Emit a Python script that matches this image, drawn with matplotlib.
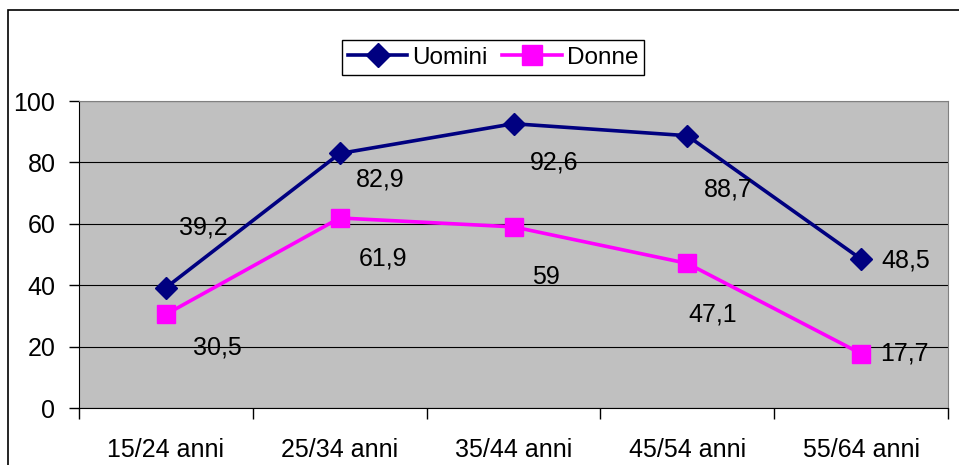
import matplotlib
matplotlib.use("Agg")
import matplotlib.pyplot as plt
from matplotlib.patches import Rectangle

plt.rcParams['font.family'] = ['Liberation Sans', 'DejaVu Sans']

categories = ['15/24 anni', '25/34 anni', '35/44 anni', '45/54 anni', '55/64 anni']
uomini = [39.2, 82.9, 92.6, 88.7, 48.5]
donne = [30.5, 61.9, 59, 47.1, 17.7]
uomini_labels = ['39,2', '82,9', '92,6', '88,7', '48,5']
donne_labels = ['30,5', '61,9', '59', '47,1', '17,7']

# label offsets in pixels (dx right, dy down), as Excel placed them
uomini_off = [(37, -60), (40, 26), (41, 39), (41, 54), (45, 1)]
donne_off = [(51, 33), (43, 41), (32, 50), (25, 51), (43, 0)]

FS = 18
W, H = 959, 465
fig = plt.figure(figsize=(W / 100, H / 100), dpi=100)
ax = fig.add_axes([79 / W, 1 - 408 / H, 869 / W, 307 / H])
ax.set_facecolor('#C0C0C0')

x = list(range(len(categories)))
ax.plot(x, uomini, color='#000080', lw=2.6, marker='D', ms=11, label='Uomini', zorder=3)
ax.plot(x, donne, color='#FF00FF', lw=2.6, marker='s', ms=13, label='Donne', zorder=3)

px = 0.72
for xi, v, t, (dx, dy) in zip(x, uomini, uomini_labels, uomini_off):
    ax.annotate(t, (xi, v), xytext=(dx * px, -dy * px), textcoords='offset points',
                ha='center', va='center', fontsize=FS, zorder=4)
for xi, v, t, (dx, dy) in zip(x, donne, donne_labels, donne_off):
    ax.annotate(t, (xi, v), xytext=(dx * px, -dy * px), textcoords='offset points',
                ha='center', va='center', fontsize=FS, zorder=4)

ax.set_xlim(-0.5, len(categories) - 0.5)
ax.set_ylim(0, 100)
ax.set_yticks([0, 20, 40, 60, 80, 100])
ax.yaxis.grid(True, color='black', lw=0.8)
ax.set_axisbelow(True)
ax.tick_params(axis='y', labelsize=FS, length=7, width=1, pad=10)

ax.set_xticks(x)
ax.set_xticklabels(categories)
ax.set_xticks([i - 0.5 for i in range(len(categories) + 1)], minor=True)
ax.tick_params(axis='x', which='major', length=0, labelsize=FS, pad=21.5)
ax.tick_params(axis='x', which='minor', length=8, width=1, direction='out')

for s in ['top', 'right']:
    ax.spines[s].set_color('#808080')
for s in ['left', 'bottom']:
    ax.spines[s].set_color('black')

leg = fig.legend(loc='center', bbox_to_anchor=(493 / W, 1 - 57.5 / H), ncol=2,
                 fontsize=17.5, frameon=True, fancybox=False, edgecolor='black',
                 framealpha=1, borderpad=0.25, handlelength=2.45, handletextpad=0.2,
                 columnspacing=0.6, borderaxespad=0, markerscale=1.1)
leg.get_frame().set_linewidth(1)

fig.patches.append(Rectangle((8 / W, -0.1), 1.2, 1.1 - 10 / H, transform=fig.transFigure,
                             fill=False, edgecolor='black', lw=1.2))

fig.savefig('out.png', dpi=100)
